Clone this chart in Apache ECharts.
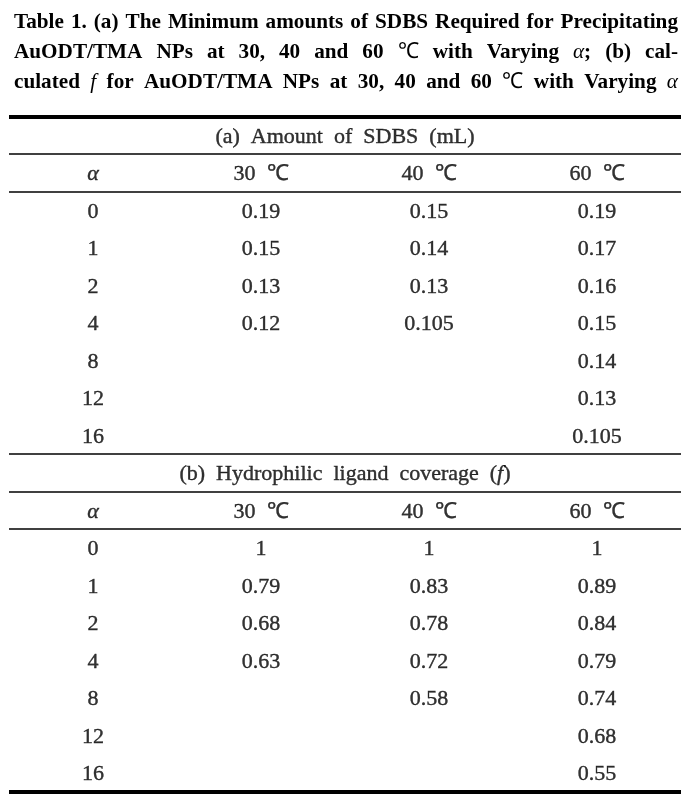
<!DOCTYPE html>
<html><head><meta charset="utf-8">
<script src="https://cdn.jsdelivr.net/npm/echarts@6/dist/echarts.min.js"></script>
<style>html,body{margin:0;padding:0;background:#fff}#c{width:690px;height:801px}</style>
</head><body><div id="c"></div><script>
// ---- content ----
const titleLines = [
  'Table 1. (a) The Minimum amounts of SDBS Required for Precipitating',
  'AuODT/TMA NPs at 30, 40 and 60 ~℃~ with Varying *α*; (b) cal-',
  'culated *f* for AuODT/TMA NPs at 30, 40 and 60 ~℃~ with Varying *α*'
];
const sectionTitles = ['(a)  Amount  of  SDBS  (mL)', '(b)  Hydrophilic  ligand  coverage  ({i|f})'];
const columnHeaders = ['{i|α}', '30  ℃', '40  ℃', '60  ℃'];
const alphaValues = [0, 1, 2, 4, 8, 12, 16];
const sdbs30 = [0.19, 0.15, 0.13, 0.12, null, null, null];
const sdbs40 = [0.15, 0.14, 0.13, 0.105, null, null, null];
const sdbs60 = [0.19, 0.17, 0.16, 0.15, 0.14, 0.13, 0.105];
const cover30 = [1, 0.79, 0.68, 0.63, null, null, null];
const cover40 = [1, 0.83, 0.78, 0.72, 0.58, null, null];
const cover60 = [1, 0.89, 0.84, 0.79, 0.74, 0.68, 0.55];

// ---- build cell list ----
const FONT = '"Liberation Serif", "Times New Roman", serif';
const cells = [];
function addSection(rowStart, title, cols) {
  cells.push({ value: [2, rowStart + 0.5, title] });
  columnHeaders.forEach((h, c) => cells.push({ value: [c + 0.5, rowStart + 1.5, h] }));
  alphaValues.forEach((a, r) => {
    const row = rowStart + 2.5 + r;
    cells.push({ value: [0.5, row, String(a)] });
    cols.forEach((arr, c) => {
      if (arr[r] !== null) cells.push({ value: [c + 1.5, row, String(arr[r])] });
    });
  });
}
addSection(0, sectionTitles[0], [sdbs30, sdbs40, sdbs60]);
addSection(9, sectionTitles[1], [cover30, cover40, cover60]);

// ---- title (justified words) ----
const ctx = document.createElement('canvas').getContext('2d');
const TSIZE = 22;
const fonts = {
  b: 'bold ' + TSIZE + 'px ' + FONT,
  i: 'italic ' + TSIZE + 'px ' + FONT,
  r: TSIZE + 'px ' + FONT
};
function tokens(line) {
  return line.split(' ').map(w => {
    const segs = [];
    const re = /\*([^*]+)\*|~([^~]+)~|([^*~]+)/g;
    let m;
    while ((m = re.exec(w))) {
      if (m[1]) segs.push({ t: m[1], f: 'i' });
      else if (m[2]) segs.push({ t: m[2], f: 'r' });
      else segs.push({ t: m[3], f: 'b' });
    }
    segs.forEach(s => { ctx.font = fonts[s.f]; s.w = ctx.measureText(s.t).width; });
    return { segs, w: segs.reduce((a, s) => a + s.w, 0) };
  });
}
const tl = titleLines.map(tokens);
const LEFT = 14, RIGHT = 678, MINGAP = 7;
let scale = 1;
tl.forEach(ws => {
  const W = ws.reduce((a, w) => a + w.w, 0);
  scale = Math.min(scale, (RIGHT - LEFT - (ws.length - 1) * MINGAP) / W);
});
const graphics = [];
const lineY = [22, 52, 82];
tl.forEach((ws, li) => {
  const W = ws.reduce((a, w) => a + w.w, 0) * scale;
  const gap = (RIGHT - LEFT - W) / (ws.length - 1);
  let x = LEFT;
  ws.forEach(w => {
    let sx = x;
    w.segs.forEach(s => {
      graphics.push({
        type: 'text', x: sx, y: lineY[li], scaleX: scale,
        style: { text: s.t, font: fonts[s.f], fill: '#000', align: 'left', verticalAlign: 'middle' }
      });
      sx += s.w * scale;
    });
    x += w.w * scale + gap;
  });
});

const chart = echarts.init(document.getElementById('c'), null, { renderer: 'canvas' });
chart.setOption({
  animation: false,
  backgroundColor: '#fff',
  grid: { left: 9, width: 672, top: 116.25, height: 675 },
  xAxis: { type: 'value', min: 0, max: 4, show: false },
  yAxis: { type: 'value', min: 0, max: 18, inverse: true, show: false },
  graphic: graphics,
  series: [{
    type: 'scatter',
    data: cells,
    symbolSize: 1,
    itemStyle: { color: 'rgba(0,0,0,0)' },
    label: {
      show: true, position: 'inside', offset: [0, 2],
      formatter: p => p.value[2],
      fontFamily: FONT, fontSize: 22, color: '#000',
      textBorderColor: '#000', textBorderWidth: 0.4,
      rich: { i: { fontFamily: FONT, fontSize: 22, fontStyle: 'italic', color: '#000', textBorderColor: '#000', textBorderWidth: 0.4 } }
    },
    emphasis: { disabled: true },
    markLine: {
      silent: true, symbol: ['none', 'none'], label: { show: false },
      lineStyle: { color: '#000', type: 'solid', width: 1.6 },
      data: [
        { yAxis: 0, lineStyle: { width: 4 } },
        { yAxis: 1 }, { yAxis: 2 }, { yAxis: 9 }, { yAxis: 10 }, { yAxis: 11 },
        { yAxis: 18, lineStyle: { width: 4 } }
      ]
    }
  }]
});
</script></body></html>
